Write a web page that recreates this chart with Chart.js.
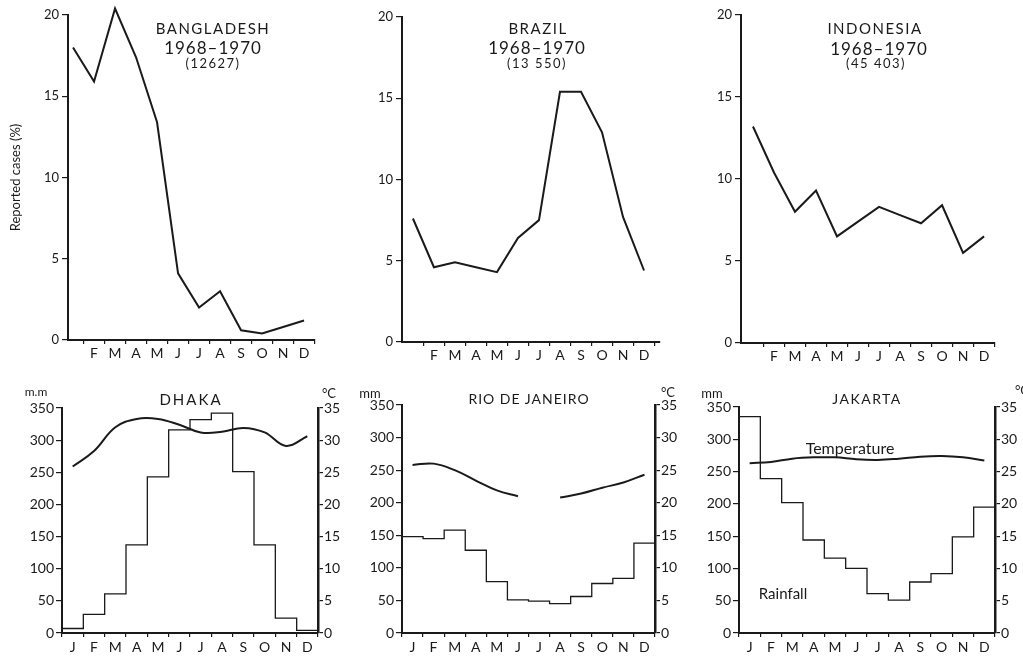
<!DOCTYPE html>
<html>
<head>
<meta charset="utf-8">
<script src="https://cdn.jsdelivr.net/npm/chart.js@4.4.1/dist/chart.umd.min.js"></script>
<style>
  html, body { margin: 0; padding: 0; background: #fff; overflow: hidden; }
  body { width: 1023px; height: 656px; position: relative; font-family: Lato, "Open Sans", sans-serif; color: #1a1a1a; }
  canvas { position: absolute; }
  .lbl { position: absolute; white-space: nowrap; transform: translate(-50%, -50%); line-height: 1; }
</style>
</head>
<body>
<canvas id="bangladesh" width="325" height="360" style="left:0;top:0"></canvas>
<canvas id="brazil" width="330" height="362" style="left:340px;top:0"></canvas>
<canvas id="indonesia" width="343" height="363" style="left:680px;top:0"></canvas>
<canvas id="dhaka" width="343" height="276" style="left:0;top:380px"></canvas>
<canvas id="rio" width="343" height="276" style="left:340px;top:380px"></canvas>
<canvas id="jakarta" width="355" height="276" style="left:680px;top:380px"></canvas>

<div class="lbl" style="left:213px;top:28px;font-size:15px;letter-spacing:1.5px">BANGLADESH</div>
<div class="lbl" style="left:213px;top:47px;font-size:17px;letter-spacing:1px">1968–1970</div>
<div class="lbl" style="left:213px;top:63px;font-size:13px;letter-spacing:1.5px">(12627)</div>
<div class="lbl" style="left:538px;top:28px;font-size:15px;letter-spacing:1.5px">BRAZIL</div>
<div class="lbl" style="left:537px;top:47px;font-size:17px;letter-spacing:1px">1968–1970</div>
<div class="lbl" style="left:537px;top:63px;font-size:13px;letter-spacing:1.5px">(13 550)</div>
<div class="lbl" style="left:875px;top:28px;font-size:15px;letter-spacing:1.5px">INDONESIA</div>
<div class="lbl" style="left:879px;top:48px;font-size:17px;letter-spacing:1px">1968–1970</div>
<div class="lbl" style="left:876px;top:63px;font-size:13px;letter-spacing:1.5px">(45 403)</div>

<div class="lbl" style="left:191px;top:399px;font-size:15px;letter-spacing:2px">DHAKA</div>
<div class="lbl" style="left:529px;top:399px;font-size:14px;letter-spacing:1px">RIO DE JANEIRO</div>
<div class="lbl" style="left:867px;top:399px;font-size:14px;letter-spacing:1.5px">JAKARTA</div>
<div class="lbl" style="left:36px;top:392px;font-size:12px">m.m</div>
<div class="lbl" style="left:329px;top:393px;font-size:13px">°C</div>
<div class="lbl" style="left:370px;top:393px;font-size:13px">mm</div>
<div class="lbl" style="left:668px;top:392px;font-size:13px">°C</div>
<div class="lbl" style="left:712px;top:393px;font-size:13px">mm</div>
<div class="lbl" style="left:1022px;top:390px;font-size:13px">°C</div>
<div class="lbl" style="left:850px;top:448px;font-size:16px">Temperature</div>
<div class="lbl" style="left:783px;top:593px;font-size:15px">Rainfall</div>

<script>
// months along the x axis
const months = ['J', 'F', 'M', 'A', 'M', 'J', 'J', 'A', 'S', 'O', 'N', 'D'];
const caseMonths = ['', 'F', 'M', 'A', 'M', 'J', 'J', 'A', 'S', 'O', 'N', 'D'];
// reported cases (%) per month, 1968-1970
const bangladeshCases = [18.0, 15.9, 20.4, 17.4, 13.4, 4.1, 2.0, 3.0, 0.6, 0.4, 0.8, 1.2];
const brazilCases = [7.6, 4.6, 4.9, 4.6, 4.3, 6.4, 7.5, 15.4, 15.4, 12.9, 7.7, 4.4];
const indonesiaCases = [13.2, 10.4, 8.0, 9.3, 6.5, 7.4, 8.3, 7.8, 7.3, 8.4, 5.5, 6.5];
const caseTicks = [0, 5, 10, 15, 20];
// rainfall (mm) and temperature (°C) per month
const dhakaRain = [7, 29, 61, 137, 243, 316, 332, 342, 251, 137, 23, 4];
const dhakaTemp = [25.9, 28.3, 32.0, 33.3, 33.3, 32.4, 31.2, 31.3, 31.9, 31.2, 29.1, 30.6];
const rioRain = [148, 145, 158, 127, 79, 51, 49, 45, 56, 76, 84, 138];
const rioTemp = [25.8, 26.0, 25.0, 23.4, 21.9, 21.0, null, 20.8, 21.4, 22.3, 23.1, 24.3];
const jakartaRain = [335, 239, 202, 144, 116, 100, 61, 51, 79, 92, 149, 195];
const jakartaTemp = [26.3, 26.5, 27.0, 27.2, 27.2, 26.9, 26.8, 27.0, 27.3, 27.4, 27.2, 26.7];
const rainTicks = [0, 50, 100, 150, 200, 250, 300, 350];
const tempTicks = [0, 5, 10, 15, 20, 25, 30, 35];

const ink = '#1a1a1a';
const family = 'Lato, "Open Sans", sans-serif';

// force axis box sizes so the plot areas line up with the page
function fixSize(w, h) {
  return (scale) => {
    if (w != null) scale.width = w;
    if (h != null) scale.height = h;
    scale.paddingLeft = scale.paddingRight = scale.paddingTop = scale.paddingBottom = 0;
  };
}
function setTicks(list) {
  return (scale) => { scale.ticks = list.map(v => ({ value: v })); };
}

function casesChart(id, values, cfg) {
  return new Chart(document.getElementById(id), {
    type: 'line',
    data: {
      datasets: [{
        data: values.map((v, i) => ({ x: i, y: v })),
        borderColor: ink, borderWidth: 2, pointRadius: 0, tension: 0, clip: false
      }]
    },
    options: {
      responsive: false,
      animation: false,
      layout: { padding: { top: cfg.top, right: cfg.right, left: 0, bottom: 0 } },
      plugins: { legend: { display: false }, tooltip: { enabled: false } },
      scales: {
        x: {
          type: 'linear', min: cfg.xmin, max: cfg.xmax,
          afterFit: fixSize(null, 20),
          afterBuildTicks: setTicks(caseMonths.map((m, i) => i + 0.5)),
          ticks: {
            callback: (v) => caseMonths[Math.round(v - 0.5)],
            labelOffset: -10.5, autoSkip: false, maxRotation: 0, padding: 1,
            color: ink, font: { family: family, size: 14 }
          },
          grid: { drawOnChartArea: false, tickLength: 4, color: ink, lineWidth: 1.2 },
          border: { color: ink, width: 2 }
        },
        y: {
          min: 0, max: 20,
          afterFit: fixSize(cfg.yWidth, null),
          afterBuildTicks: setTicks(caseTicks),
          ticks: { color: ink, font: { family: family, size: 13 }, padding: 3 },
          grid: { drawOnChartArea: false, tickLength: 6, color: ink, lineWidth: 1.2 },
          border: { color: ink, width: 2 },
          title: {
            display: !!cfg.title, text: cfg.title, color: ink,
            font: { family: family, size: 13 }, padding: { top: 8, bottom: 0 }
          }
        }
      }
    }
  });
}

function climateChart(id, rain, temp, cfg) {
  const rainPts = rain.map((v, i) => ({ x: i, y: v }));
  rainPts.push({ x: rain.length, y: rain[rain.length - 1] });
  return new Chart(document.getElementById(id), {
    type: 'line',
    data: {
      datasets: [
        { data: rainPts, yAxisID: 'y', stepped: 'before', borderColor: ink, borderWidth: 1.3, pointRadius: 0 },
        { data: temp.map((v, i) => ({ x: i + 0.5, y: v })), yAxisID: 'y1', tension: 0.4,
          borderColor: ink, borderWidth: 2, pointRadius: 0, spanGaps: false }
      ]
    },
    options: {
      responsive: false,
      animation: false,
      layout: { padding: { top: cfg.top, right: 0, left: 0, bottom: 0 } },
      plugins: { legend: { display: false }, tooltip: { enabled: false } },
      scales: {
        x: {
          type: 'linear', min: 0, max: 12,
          afterFit: fixSize(null, 23),
          afterBuildTicks: setTicks(months.map((m, i) => i).concat([12])),
          ticks: {
            callback: (v) => months[v] || '',
            labelOffset: cfg.half, autoSkip: false, maxRotation: 0, padding: 2,
            color: ink, font: { family: family, size: 14 }
          },
          grid: { drawOnChartArea: false, tickLength: 4, color: ink, lineWidth: 1.2 },
          border: { color: ink, width: 2 }
        },
        y: {
          min: 0, max: 350,
          afterFit: fixSize(cfg.left, null),
          afterBuildTicks: setTicks(rainTicks),
          ticks: { color: ink, font: { family: family, size: 14 }, padding: 2 },
          grid: { drawOnChartArea: false, tickLength: 6, color: ink, lineWidth: 1.2 },
          border: { color: ink, width: 2 }
        },
        y1: {
          position: 'right', min: 0, max: 35,
          afterFit: fixSize(cfg.right, null),
          afterBuildTicks: setTicks(tempTicks),
          ticks: { color: ink, font: { family: family, size: 14 }, padding: 1 },
          grid: { drawOnChartArea: false, tickLength: 5, color: ink, lineWidth: 1.2 },
          border: { color: ink, width: 2.5 }
        }
      }
    }
  });
}

casesChart('bangladesh', bangladeshCases, { top: 15, right: 10, yWidth: 68, xmin: -0.24, xmax: 11.52, title: 'Reported cases (%)' });
casesChart('brazil', brazilCases, { top: 17, right: 10, yWidth: 62, xmin: -0.52, xmax: 11.76 });
casesChart('indonesia', indonesiaCases, { top: 15, right: 28, yWidth: 61, xmin: -0.57, xmax: 11.52 });

climateChart('dhaka', dhakaRain, dhakaTemp, { top: 28, left: 62, right: 25, half: 10.7 });
climateChart('rio', rioRain, rioTemp, { top: 25, left: 62, right: 28, half: 10.5 });
climateChart('jakarta', jakartaRain, jakartaTemp, { top: 27, left: 59, right: 40, half: 10.7 });
</script>
</body>
</html>
